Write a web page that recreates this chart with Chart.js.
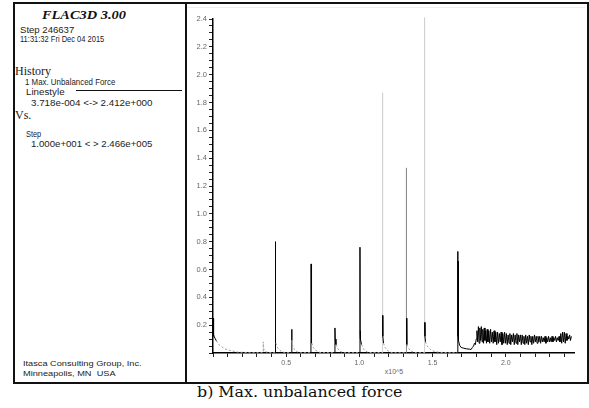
<!DOCTYPE html>
<html>
<head>
<meta charset="utf-8">
<script src="https://cdn.jsdelivr.net/npm/chart.js@4.4.1/dist/chart.umd.min.js"></script>
<style>
    body { margin: 0; background: #fff; width: 589px; height: 408px; position: relative; overflow: hidden; font-family: Arial, "Liberation Sans", sans-serif; }
    #frame { position: absolute; left: 13px; top: 2px; width: 572px; height: 378px; border: 2px solid #111; }
    #divider { position: absolute; left: 185px; top: 2px; width: 2px; height: 380px; background: #111; }
    #topline { position: absolute; left: 187px; top: 7px; width: 398px; height: 1px; background: #eee; }
    .t { position: absolute; white-space: nowrap; font-size: 8.5px; line-height: 8.5px; color: #222; transform-origin: left top; }
    .small { font-size: 8px; line-height: 8px; }
    .serif { font-family: "Liberation Serif", "Times New Roman", serif; font-size: 12px; line-height: 12px; }
    .title { font-family: "Liberation Serif", serif; font-weight: bold; font-style: italic; font-size: 12.5px; line-height: 12.5px; color: #111; }
    .caption { font-family: "DejaVu Serif", serif; font-size: 14px; line-height: 14px; color: #111; }
    #lsline { position: absolute; left: 76px; top: 90px; width: 106px; height: 1px; background: #111; }
    #xexp { position: absolute; left: 374px; top: 368px; width: 40px; text-align: center; font-size: 7px; line-height: 7px; color: #666; }
    #plot { position: absolute; left: 187px; top: 4px; }
</style>
</head>
<body>
<div id="frame"></div>
<div id="divider"></div>
<div id="topline"></div>

<div class="t title" style="left:42px; top:9px;" data-w="105">FLAC3D 3.00</div>
<div class="t" style="left:20px; top:26px;" data-w="54">Step 246637</div>
<div class="t" style="left:20px; top:35px;" data-w="84">11:31:32 Fri Dec 04 2015</div>
<div class="t serif" style="left:15px; top:65px;">History</div>
<div class="t" style="left:25px; top:78px;" data-w="90">1 Max. Unbalanced Force</div>
<div class="t" style="left:26px; top:88px;" data-w="40">Linestyle</div>
<div class="t" style="left:31px; top:99px;" data-w="122">3.718e-004 &lt;-&gt; 2.412e+000</div>
<div id="lsline"></div>
<div class="t serif" style="left:15px; top:109px;">Vs.</div>
<div class="t" style="left:26px; top:130px;" data-w="15">Step</div>
<div class="t" style="left:31px; top:140px;" data-w="121">1.000e+001 &lt; &gt; 2.466e+005</div>
<div class="t small" style="left:23px; top:360px;" data-w="119">Itasca Consulting Group, Inc.</div>
<div class="t small" style="left:23px; top:370px;" data-w="92">Minneapolis, MN&nbsp; USA</div>

<div id="xexp">x10^5</div>
<div class="t caption" style="left:197px; top:385px;" data-w="206">b) Max. unbalanced force</div>

<canvas id="plot" width="399" height="377"></canvas>

<script>
// step number (x10^5)
var steps = [
    0.0001, 0.002, 0.004, 0.006, 0.009, 0.023, 0.045, 0.08, 0.11, 0.17, 0.25, 0.342,
    0.343, 0.344, 0.35, 0.36, 0.38, 0.424,
    0.425, 0.426, 0.43, 0.44, 0.455, 0.47, 0.49, 0.537,
    0.538, 0.539, 0.542, 0.55, 0.565, 0.58, 0.60, 0.669,
    0.670, 0.671, 0.675, 0.685, 0.70, 0.72, 0.74, 0.832,
    0.833, 0.835, 0.84, 0.85, 0.865, 0.88, 0.90, 1.003,
    1.004, 1.005, 1.007, 1.015, 1.025, 1.04, 1.06, 1.157,
    1.158, 1.159, 1.160, 1.165, 1.175, 1.19, 1.21, 1.23, 1.320,
    1.321, 1.322, 1.323, 1.325, 1.335, 1.35, 1.37, 1.39, 1.444,
    1.445, 1.446, 1.448, 1.452, 1.46, 1.475, 1.49, 1.51, 1.54, 1.58, 1.671,
    1.672, 1.673, 1.674, 1.675, 1.678, 1.685, 1.695, 1.71, 1.73, 1.75, 1.763, 1.772, 1.78, 1.786, 1.792, 1.798,
    1.803, 1.808, 1.813, 1.818, 1.823, 1.828, 1.833, 1.838, 1.843, 1.848, 1.853, 1.858, 1.863, 1.868, 1.873, 1.878,
    1.884, 1.890, 1.896, 1.902, 1.908, 1.914, 1.920, 1.926, 1.932, 1.938, 1.944, 1.950, 1.956, 1.962, 1.968, 1.974,
    1.980, 1.986, 1.992, 1.998, 2.004, 2.010, 2.016, 2.022, 2.028, 2.034, 2.040, 2.046, 2.052, 2.058, 2.064, 2.070,
    2.076, 2.082, 2.088, 2.094, 2.100, 2.106, 2.112, 2.118, 2.124, 2.130, 2.136, 2.142, 2.148, 2.154, 2.160, 2.166,
    2.172, 2.178, 2.184, 2.190, 2.196, 2.202, 2.208, 2.214, 2.220, 2.226, 2.232, 2.238, 2.244, 2.250, 2.256, 2.262,
    2.268, 2.274, 2.280, 2.286, 2.292, 2.298, 2.304, 2.310, 2.316, 2.322, 2.328, 2.334, 2.340, 2.346, 2.352, 2.358,
    2.364, 2.370, 2.376, 2.382, 2.388, 2.394, 2.400, 2.406, 2.412, 2.418, 2.424, 2.430, 2.436, 2.442, 2.448
];

// max. unbalanced force at each step
var force = [
    0.25, 0.12, 0.22, 0.13, 0.115, 0.087, 0.055, 0.03, 0.02, 0.006, 0.003, 0.002,
    0.08, 0.04, 0.02, 0.008, 0.003, 0.002,
    0.80, 0.10, 0.07, 0.04, 0.02, 0.01, 0.003, 0.002,
    0.17, 0.09, 0.06, 0.035, 0.015, 0.006, 0.002, 0.002,
    0.64, 0.10, 0.07, 0.04, 0.02, 0.008, 0.002, 0.002,
    0.18, 0.10, 0.06, 0.035, 0.015, 0.006, 0.002, 0.002,
    0.76, 0.16, 0.10, 0.06, 0.035, 0.015, 0.004, 0.002,
    1.87, 0.27, 0.12, 0.07, 0.04, 0.02, 0.006, 0.002, 0.002,
    1.33, 0.25, 0.10, 0.06, 0.035, 0.015, 0.005, 0.002, 0.002,
    2.41, 0.22, 0.12, 0.08, 0.055, 0.035, 0.02, 0.012, 0.006, 0.003, 0.002,
    0.73, 0.12, 0.66, 0.15, 0.09, 0.055, 0.04, 0.035, 0.03, 0.028, 0.025, 0.04, 0.05, 0.07, 0.06, 0.10,
    0.16, 0.08, 0.19, 0.07, 0.18, 0.09, 0.19, 0.08, 0.17, 0.07, 0.18, 0.09, 0.16, 0.07, 0.17, 0.08,
    0.16, 0.07, 0.17, 0.08, 0.15, 0.07, 0.16, 0.08, 0.15, 0.06, 0.15, 0.07, 0.14, 0.08, 0.15, 0.06,
    0.14, 0.07, 0.15, 0.07, 0.14, 0.06, 0.13, 0.07, 0.14, 0.06, 0.13, 0.08, 0.14, 0.06, 0.13, 0.07,
    0.14, 0.06, 0.13, 0.08, 0.13, 0.06, 0.13, 0.07, 0.12, 0.06, 0.13, 0.07, 0.12, 0.06, 0.13, 0.08,
    0.12, 0.06, 0.12, 0.07, 0.13, 0.08, 0.12, 0.07, 0.12, 0.08, 0.12, 0.07, 0.12, 0.08, 0.11, 0.08,
    0.12, 0.07, 0.11, 0.08, 0.12, 0.08, 0.11, 0.08, 0.12, 0.08, 0.11, 0.09, 0.12, 0.08, 0.11, 0.09,
    0.12, 0.08, 0.14, 0.07, 0.15, 0.08, 0.15, 0.07, 0.14, 0.09, 0.12, 0.10, 0.13, 0.09, 0.12
];

var xTickLabels = ['0.5', '1.0', '1.5', '2.0'];
var yTickLabels = ['0.2', '0.4', '0.6', '0.8', '1.0', '1.2', '1.4', '1.6', '1.8', '2.0', '2.2', '2.4'];

// nudge the panel texts toward the widths they have in the print, but only a little
document.querySelectorAll('[data-w]').forEach(el => {
    var k = Number(el.getAttribute('data-w')) / el.offsetWidth;
    k = Math.min(1.15, Math.max(0.87, k));
    el.style.transform = 'scaleX(' + k + ')';
});

var points = steps.map((s, i) => ({ x: s, y: force[i] }));

var segColor = (c) => {
    var top = Math.max(c.p0.parsed.y, c.p1.parsed.y);
    if (top > 1.5) return '#d0d0d0';
    if (top > 0.9) return '#8c8c8c';
    if (top < 0.1 && c.p0.parsed.x < 1.66) return '#9a9a9a';
    return '#000';
};
var segDash = (c) => {
    var top = Math.max(c.p0.parsed.y, c.p1.parsed.y);
    return (top < 0.1 && c.p0.parsed.x < 1.66) ? [2, 2] : undefined;
};

var pickLabel = (list, v) => {
    var s = v.toFixed(1);
    return (Math.abs(v - Number(s)) < 1e-6 && list.indexOf(s) >= 0) ? s : '';
};

var ctx = document.getElementById('plot').getContext('2d');

new Chart(ctx, {
    type: 'scatter',
    data: {
        datasets: [{
            label: 'Max. Unbalanced Force',
            data: points,
            showLine: true,
            borderColor: '#000',
            borderWidth: 1,
            pointRadius: 0,
            tension: 0,
            clip: false,
            segment: {
                borderColor: segColor,
                borderDash: segDash
            }
        }]
    },
    options: {
        responsive: false,
        animation: false,
        events: [],
        layout: {
            padding: { left: 0, right: 12, top: 15, bottom: 0 }
        },
        plugins: {
            legend: { display: false },
            tooltip: { enabled: false }
        },
        scales: {
            x: {
                type: 'linear',
                min: 0,
                max: 2.466,
                afterFit: (scale) => { scale.height = 28; },
                border: { display: true, color: '#000', width: 1.5 },
                grid: { drawOnChartArea: false, drawTicks: true, tickLength: 4, tickColor: '#222', tickWidth: 1 },
                ticks: {
                    stepSize: 0.1,
                    includeBounds: false,
                    autoSkip: false,
                    maxRotation: 0,
                    padding: 2,
                    color: '#666',
                    font: { family: 'Arial', size: 7 },
                    callback: (v) => pickLabel(xTickLabels, v)
                }
            },
            y: {
                type: 'linear',
                min: 0,
                max: 2.4,
                afterFit: (scale) => { scale.width = 26; },
                border: { display: true, color: '#000', width: 1.5 },
                grid: { drawOnChartArea: false, drawTicks: true, tickLength: 4, tickColor: '#222', tickWidth: 1 },
                ticks: {
                    stepSize: 0.05,
                    includeBounds: false,
                    autoSkip: false,
                    padding: 2,
                    color: '#666',
                    font: { family: 'Arial', size: 7.5 },
                    callback: (v) => pickLabel(yTickLabels, v)
                }
            }
        }
    }
});
</script>
</body>
</html>
